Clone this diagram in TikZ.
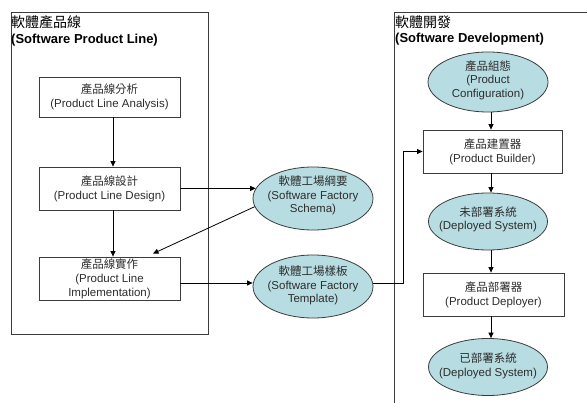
\documentclass[tikz,border=0pt]{standalone}
\usepackage{fontspec}
\setmainfont{Liberation Sans}
\newfontfamily\cjk{Noto Sans CJK TC}
\usetikzlibrary{shapes.geometric,arrows.meta}
\definecolor{ellfill}{RGB}{183,221,226}
\definecolor{bordergray}{RGB}{60,60,60}
\definecolor{txtgray}{RGB}{45,45,45}
\begin{document}
\begin{tikzpicture}[x=1pt,y=-1pt,
  box/.style={draw=bordergray, fill=white, rectangle, minimum width=141pt, minimum height=42pt, inner sep=0pt, align=center, font=\fontsize{11.5}{14}\selectfont, text=txtgray, line width=0.8pt},
  ell/.style={draw=bordergray, fill=ellfill, ellipse, minimum width=120pt, minimum height=60pt, inner sep=0pt, line width=0.8pt},
  etxt/.style={align=center, font=\fontsize{11.5}{13.5}\selectfont, text=txtgray, inner sep=0pt},
  arr/.style={-{Triangle[length=5.5pt,width=5pt]}, line width=0.8pt},
  cont/.style={draw=bordergray, line width=0.8pt},
  ttl/.style={anchor=north west, align=left, inner sep=0pt, font=\fontsize{13}{15.5}\selectfont}
]
\useasboundingbox (0,0) rectangle (587,403);
\fill[white] (0,0) rectangle (587,403);

% containers
\draw[cont] (11,12) rectangle (208,334);
\draw[cont] (587,12) -- (394,12) -- (394,403);

% titles
\node[ttl] (t1) at (11,15.5) {{\cjk\fontsize{14}{15.5}\selectfont 軟體產品線}\\\textbf{(Software Product Line)}};
\node[ttl] (t2) at (395,15.5) {{\cjk\fontsize{14}{15.5}\selectfont 軟體開發}\\\textbf{(Software Development)}};

% left column
\node[box, minimum height=40pt] (b1) at (109.5,97) {{\cjk 產品線分析}\\(Product Line Analysis)};
\node[box, minimum height=43pt] (b2) at (109.5,188.5) {{\cjk 產品線設計}\\(Product Line Design)};
\node[box, minimum height=43pt, font=\fontsize{11.5}{14}\selectfont] (b3) at (109.5,278.5) {{\cjk 產品線實作}\\(Product Line\\Implementation)};

% middle ellipses
\node[ell, minimum height=63pt, label={[etxt, yshift=3pt]center:{{\cjk 軟體工場綱要}\\(Software Factory\\Schema)}}] (schema) at (313,198.5) {};
\node[ell, minimum height=63pt, label={[etxt, yshift=1pt]center:{{\cjk 軟體工場樣板}\\(Software Factory\\Template)}}] (template) at (313,286.5) {};

% right column
\node[ell, label={[etxt, yshift=2pt]center:{{\cjk 產品組態}\\(Product\\Configuration)}}] (pc) at (488,82) {};
\node[box, minimum width=139pt, minimum height=43pt] (builder) at (492.5,151.5) {{\cjk 產品建置器}\\(Product Builder)};
\node[ell, minimum width=119pt, minimum height=57pt, label={[etxt, yshift=2pt]center:{{\cjk 未部署系統}\\(Deployed System)}}] (dep) at (488,221.5) {};
\node[box, minimum height=43pt] (deployer) at (493.5,294.5) {{\cjk 產品部署器}\\(Product Deployer)};
\node[ell, minimum width=119pt, minimum height=57pt, label={[etxt, yshift=1pt]center:{{\cjk 已部署系統}\\(Deployed System)}}] (deployed) at (488,367) {};

% connectors
\draw[arr] ([xshift=3.5pt]b1.south) -- ([xshift=3.5pt]b2.north);
\draw[arr] ([xshift=3.5pt]b2.south) -- ([xshift=3.5pt]b3.north);
\draw[arr] (b2.east) -- (schema.170);
\draw[arr] (schema.188) -- ([xshift=43.5pt,yshift=3pt]b3.north);
\draw[arr] ([yshift=-4.5pt]b3.east) -- ([yshift=-4.5pt]b3.east -| template.west);
\draw[arr] ([yshift=3.5pt]template.east) -- ++(30,0) |- (builder.west);
\draw[arr] ([xshift=3pt]pc.south) -- ([xshift=3pt]pc.south |- builder.north);
\draw[arr] ([xshift=-1.5pt]builder.south) -- ([xshift=-1.5pt]builder.south |- dep.north);
\draw[arr] ([xshift=3pt]dep.south) -- ([xshift=3pt]dep.south |- deployer.north);
\draw[arr] ([xshift=-2.5pt]deployer.south) -- ([xshift=-2.5pt]deployer.south |- deployed.north);
\end{tikzpicture}
\end{document}
